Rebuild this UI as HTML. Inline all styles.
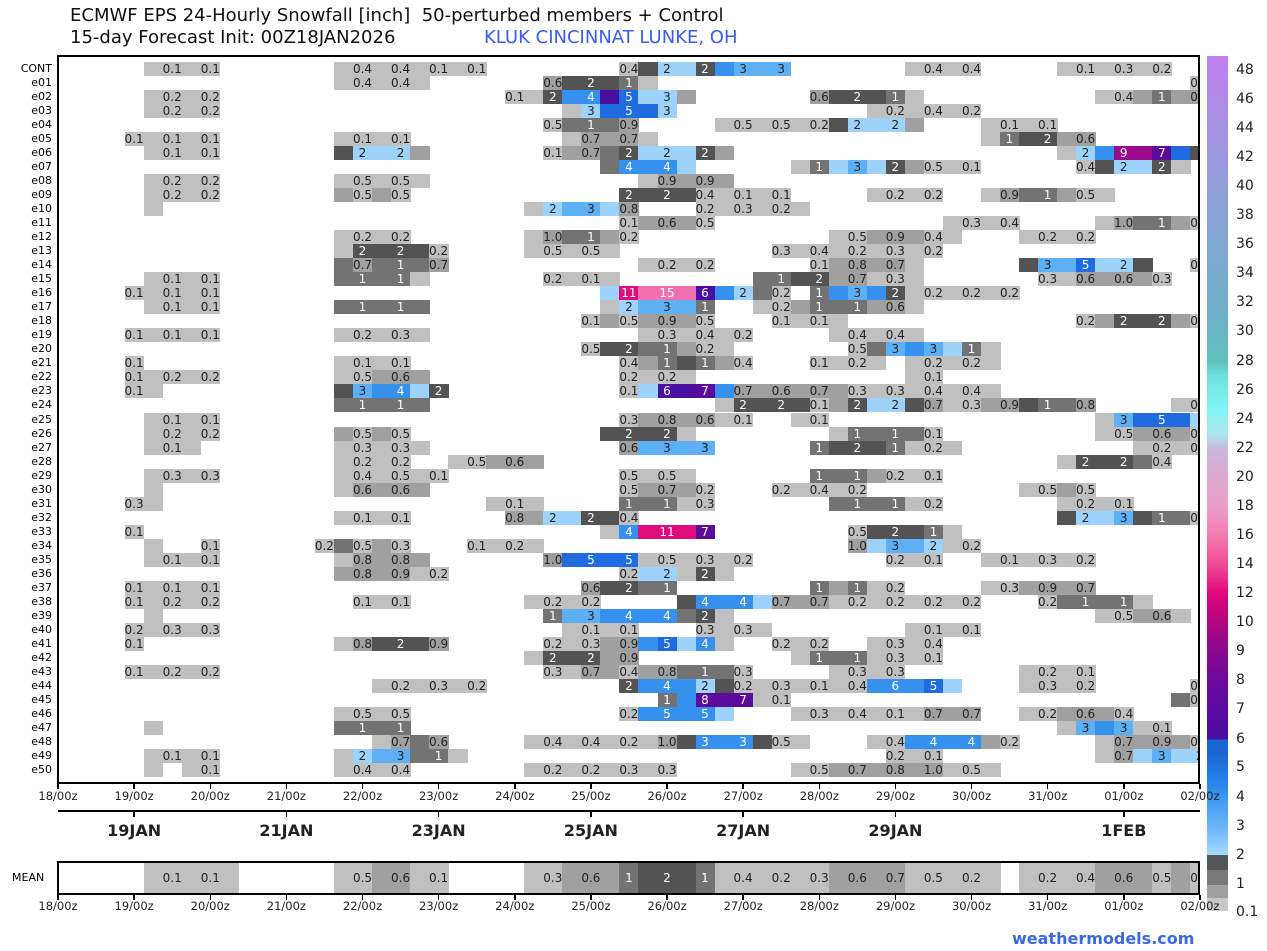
<!DOCTYPE html>
<html><head><meta charset="utf-8">
<style>
body{margin:0;background:#fff;width:1267px;height:951px;overflow:hidden;position:relative;font-family:"DejaVu Sans","Liberation Sans",sans-serif;}
.t{position:absolute;white-space:nowrap;}
.c{position:absolute;height:14px;}
.l{position:absolute;font-size:12px;line-height:14px;text-align:center;width:40px;margin-left:-20px;}
#plot{position:absolute;left:57px;top:55px;width:1143px;height:729px;border:2px solid #000;overflow:hidden;box-sizing:border-box;}
#mean{position:absolute;left:57px;top:861px;width:1143px;height:34px;border:2px solid #000;overflow:hidden;box-sizing:border-box;}
.rl{position:absolute;font-size:11px;right:1215px;line-height:14px;}
.xt{position:absolute;font-size:11.5px;width:60px;margin-left:-30px;text-align:center;color:#222;}
.tk{position:absolute;width:1.5px;background:#000;}
</style></head><body>
<div class="t" style="left:70px;top:5px;font-size:18px;color:#111;">ECMWF EPS 24-Hourly Snowfall [inch]&nbsp; 50-perturbed members + Control</div>
<div class="t" style="left:70px;top:27px;font-size:18px;color:#111;">15-day Forecast Init: 00Z18JAN2026</div>
<div class="t" style="left:484px;top:27px;font-size:18px;color:#3a5cf0;">KLUK CINCINNAT LUNKE, OH</div>
<div id="plot"></div>
<div id="mean"></div>
<div class="t" style="left:12px;top:871px;font-size:11px;">MEAN</div>
<div style="position:absolute;left:58px;top:810px;width:1142px;height:2px;background:#000"></div>
<div style="position:absolute;left:1207px;top:56px;width:21px;height:855px;background:linear-gradient(to top,#c8c8c8 0px,#c8c8c8 13px,#a0a0a0 13px,#a0a0a0 26px,#787878 26px,#787878 41px,#555 41px,#555 56px,#a5dcff 56px,#87c6ff 70px,#6ab4fa 85px,#55a6f5 99px,#3c96f0 114px,#2a84ea 128px,#1f74e0 143px,#1a66d0 157px,#1a66d0 171px,#4a10a0 172px,#5a0aa0 201px,#6a0a9a 230px,#8a0890 259px,#b0067e 288px,#e0067a 317px,#f04a98 346px,#f47ab0 375px,#eaa0c8 404px,#dca8d0 433px,#c8b8dc 462px,#a8e8f0 478px,#80f4f4 505px,#70e0e0 535px,#60c0c0 549px,#70b0c8 600px,#90a0d8 720px,#c080f0 855px);"></div>
<div class="t" style="left:1012px;top:929px;font-size:16px;font-weight:bold;color:#3a6ae0;">weathermodels.com</div>
<script>
var C={a:'#c0c0c0',b:'#a0a0a0',c:'#737373',d:'#535353',L:'#9dd3fb',M:'#5eb0f5',N:'#3590ee',O:'#1f6be0',P:'#4a0fa0',Q:'#5c0a9c',R:'#9a0a8a',S:'#e00c7c',T:'#f070b0',e:''};
var DK={c:1,d:1,N:1,O:1,P:1,Q:1,R:1,S:1,T:1};
function dc(s){if(s==='1.0')return'b';var v=parseFloat(s);if(v<=0.5)return'a';if(v<1)return'b';if(v<1.5)return'c';if(v<2.5)return'd';var m={3:'M',4:'N',5:'O',6:'P',7:'Q',8:'Q',9:'R',10:'S',11:'S',15:'T'};return m[Math.round(v)]||'S';}
var rows=[
['CONT','5:a,0.1,a,0.1 15:a,0.4,a,0.4,a,0.1,a,0.1 30:0.4,d,2L,L,2,N,3M,M,3M 45:a,0.4,a,0.4 53:a,0.1,a,0.3,a,0.2'],
['e01','15:a,0.4,a,0.4,a 26:0.6,d,2,d,1,a 60:0.3'],
['e02','5:a,0.2,a,0.2 24:0.1,a,2,N,4N,P,5O,L,3L,b 40:0.6,d,2,d,1,a 55:a,0.4,b,1,b,0.8'],
['e03','5:a,0.2,a,0.2 27:a,3L,O,5,O,3L 43:a,0.2,a,0.4,a,0.2'],
['e04','26:0.5,c,1,c,0.9 35:a,0.5,a,0.5,a,0.2,d,2L,L,2L,b 49:a,0.1,a,0.1'],
['e05','4:0.1,a,0.1,a,0.1 15:a,0.1,a,0.1 27:a,0.7,b,0.7,a 49:a,1,d,2,b,0.6'],
['e06','5:a,0.1,a,0.1 15:d,2L,L,2L,b 26:0.1,b,0.7,c,2,L,2L,L,2,b 53:a,2L,N,9,R,7,O,d'],
['e07','29:c,4N,N,4N,L 39:a,1,L,3M,L,2,b,0.5,a,0.1 54:0.4,d,2L,L,2,a'],
['e08','5:a,0.2,a,0.2 15:a,0.5,a,0.5,a 31:a,0.9,b,0.9,b'],
['e09','5:a,0.2,a,0.2 15:b,0.5,b,0.5 30:2,d,2,d,0.4,a,0.1,a,0.1 43:a,0.2,a,0.2 49:a,0.9,c,1,b,0.5,a'],
['e10','5:a 25:a,2L,M,3M,L,0.8 34:0.2,a,0.3,a,0.2,a'],
['e11','30:0.1,b,0.6,b,0.5 47:a,0.3,a,0.4 55:a,1.0,c,1,b,0.4'],
['e12','15:a,0.2,a,0.2 25:a,1.0,c,1,b,0.2 41:a,0.5,b,0.9,b,0.4,a 51:a,0.2,a,0.2'],
['e13','15:a,2,d,2,d,0.2 25:a,0.5,a,0.5,a 38:0.3,a,0.4,a,0.2,a,0.3,a,0.2'],
['e14','15:c,0.7,c,1,c,0.7 31:a,0.2,a,0.2 40:0.1,b,0.8,b,0.7,a 51:d,3M,M,5O,L,2L,d 60:0.5'],
['e15','5:a,0.1,a,0.1 15:c,1,c,1,a 26:0.2,a,0.1,a 37:c,1,d,2,b,0.7,a,0.3,a 52:0.3,a,0.6,b,0.6,b,0.3'],
['e16','4:0.1,a,0.1,a,0.1 29:L,11,T,15T,T,6,N,2L,c,0.2,e,1,N,3M,N,2,a,0.2,a,0.2,a,0.2'],
['e17','5:a,0.1,a,0.1 15:c,1,c,1,c 29:a,2L,M,3M,M,1 37:a,0.2,b,1,c,1,b,0.6,a'],
['e18','28:0.1,b,0.5,b,0.9,b,0.5 38:0.1,a,0.1,a 54:0.2,b,2,d,2,b,0.1'],
['e19','4:0.1,a,0.1,a,0.1 15:a,0.2,a,0.3,a 31:a,0.3,a,0.4,a,0.2 41:a,0.4,a,0.4,a'],
['e20','28:0.5,d,2,c,1,b,0.2,a 42:0.5,c,3M,N,3M,L,1,a'],
['e21','4:0.1 15:a,0.1,a,0.1 30:0.4,b,1,d,1,b,0.4 40:0.1,a,0.2,a 45:a,0.2,a,0.2,a'],
['e22','4:0.1,a,0.2,a,0.2 15:a,0.5,b,0.6,b 30:0.2,a,0.2,a 45:a,0.1'],
['e23','4:0.1,a 15:d,3M,N,4N,L,2 30:0.1,L,6,P,7,N,0.7,b,0.6,b,0.7,b,0.3,a,0.3,a,0.4,a,0.4,a'],
['e24','15:c,1,c,1,c 35:a,2,d,2,d,0.1,b,2,L,2L,d,0.7,a,0.3,b,0.9,d,1,c,0.8 59:a,0.5'],
['e25','5:a,0.1,a,0.1 30:0.3,b,0.8,b,0.6,a,0.1 39:a,0.1 55:a,3M,O,5,O,L,2L'],
['e26','5:a,0.2,a,0.2 15:b,0.5,b,0.5 29:d,2,d,2,a 41:a,1,c,1,c,0.1 55:a,0.5,b,0.6,b,0.3'],
['e27','5:a,0.1,a 15:a,0.3,a,0.3,a 30:0.6,M,3M,M,3M 40:1,d,2,d,1,a,0.2,a 57:a,0.2,a,0.2'],
['e28','15:a,0.2,a,0.2 21:a,0.5,b,0.6,b 53:a,2,d,2,c,0.4'],
['e29','5:a,0.3,a,0.3 15:a,0.4,a,0.5,a,0.1 30:0.5,a,0.5,a 40:1,c,1,b,0.2,a,0.1'],
['e30','5:a 15:a,0.6,b,0.6,b 30:0.5,b,0.7,b,0.2 38:0.2,a,0.4,a,0.2 51:a,0.5,b,0.5'],
['e31','4:0.3,a 23:a,0.1,a 30:1,c,1,a,0.3 41:c,1,c,1,a,0.2 53:a,0.2,a,0.1'],
['e32','15:a,0.1,a,0.1 24:0.8,b,2L,L,2,d,0.4 53:d,2L,L,3M,d,1,c,0.4'],
['e33','4:0.1 29:a,4N,S,11,S,7 42:0.5,d,2,d,1,a'],
['e34','5:a,e,e,0.1 14:0.2,c,0.5,b,0.3 22:0.1,a,0.2,a 42:1.0,L,3M,M,2L,a,0.2'],
['e35','5:a,0.1,a,0.1 15:a,0.8,b,0.8,b 26:1.0,O,5,O,5,a,0.5,a,0.3,a,0.2 44:0.2,a,0.1 49:a,0.1,a,0.3,a,0.2'],
['e36','15:b,0.8,b,0.9,a,0.2 30:0.2,L,2L,a,2,a'],
['e37','4:0.1,a,0.1,a,0.1 28:0.6,d,2,c,1 40:1,b,1,a,0.2 49:a,0.3,b,0.9,b,0.7'],
['e38','4:0.1,a,0.2,a,0.2 16:0.1,a,0.1 25:a,0.2,a,0.2 33:d,4N,N,4N,L,0.7,b,0.7,a,0.2,a,0.2,a,0.2,a,0.2 52:0.2,c,1,c,1,a'],
['e39','5:a 26:1,M,3M,N,4N,N,4N,c,2,a 55:a,0.5,b,0.6,a'],
['e40','4:0.2,a,0.3,a,0.3 27:a,0.1,a,0.1 34:0.3,a,0.3,a 45:a,0.1,a,0.1'],
['e41','4:0.1 15:a,0.8,d,2,d,0.9 26:0.2,a,0.3,b,0.9,N,5O,L,4N,a 38:0.2,a,0.2 43:a,0.3,a,0.4'],
['e42','25:a,2,d,2,b,0.9 39:a,1,c,1,a 44:0.3,a,0.1'],
['e43','4:0.1,a,0.2,a,0.2 26:0.3,a,0.7,b,0.4,b,0.8,c,1,c,0.3 41:a,0.3,a,0.3 51:a,0.2,a,0.1'],
['e44','17:a,0.2,a,0.3,a,0.2 30:2,N,4N,N,2L,d,0.2,a,0.3,a,0.1,a,0.4,N,6N,N,5O,L 51:a,0.3,a,0.2 60:0.1'],
['e45','32:1,N,8,Q,7,a,0.1 59:c,0.5'],
['e46','15:a,0.5,a,0.5 30:0.2,N,5N,N,5N,L 39:a,0.3,a,0.4,a,0.1,a,0.7,b,0.7 51:a,0.2,b,0.6,b,0.4'],
['e47','5:a 15:c,1,c,1 53:a,3M,N,3M,a,0.1'],
['e48','17:a,0.7,c,0.6 25:a,0.4,a,0.4,a,0.2,a,1.0,d,3N,N,3N,d,0.5,a 43:a,0.4,N,4N,N,4N,b,0.2 55:a,0.7,b,0.9,b,0.3'],
['e49','5:a,0.1,a,0.1 15:a,2L,M,3M,c,1,a 44:0.2,a,0.1 55:a,0.7,L,3M,L,2L'],
['e50','5:a,e,a,0.1 15:a,0.4,a,0.4 25:a,0.2,a,0.2,a,0.3,a,0.3 39:a,0.5,b,0.7,b,0.8,b,1.0,a,0.5,a']
];
var DX=19.03;
function draw(par,top,h,spec){
 spec.split(' ').forEach(function(seg){
  var p=seg.split(':'),j=parseInt(p[0]);
  p[1].split(',').forEach(function(tok,k){
   var jj=j+k,x=(jj*DX-9.5)+1,col,lab=null;
   if(/^[a-zA-Z]$/.test(tok)){col=tok;}else{var m=tok.match(/^([\d.]+)([A-Za-z]?)$/);lab=m[1];col=m[2]||dc(m[1]);}
   if(C[col]){var d=document.createElement('div');d.className='c';d.style.cssText='left:'+(x-2).toFixed(1)+'px;top:'+top+'px;width:'+(DX+0.6).toFixed(1)+'px;height:'+h+'px;background:'+C[col];par.appendChild(d);}
   if(lab){var t=document.createElement('div');t.className='l';t.textContent=lab;t.style.cssText='left:'+(x-2+DX/2).toFixed(1)+'px;top:'+(top+(h-14)/2)+'px;color:'+(DK[col]?'#fff':'#222');par.appendChild(t);}
  });
 });
}
var plot=document.getElementById('plot');
rows.forEach(function(r,i){
 var yc=69+i*14.02;
 draw(plot,Math.round(yc-7-57),14,r[1]);
 var l=document.createElement('div');l.className='rl t';l.textContent=r[0];l.style.top=(yc-7)+'px';document.body.appendChild(l);
});
draw(document.getElementById('mean'),0,30,'5:a,0.1,a,0.1,a 15:a,0.5,b,0.6,a,0.1 25:a,0.3,b,0.6,b,1,d,2,d,1,a,0.4,a,0.2,a,0.3,b,0.6,b,0.7,a,0.5,a,0.2,a 51:a,0.2,a,0.4,b,0.6,b,0.5,b,0.2');
var days=['18','19','20','21','22','23','24','25','26','27','28','29','30','31','01','02'];
var b=document.body;
days.forEach(function(d,i){
 var x=58+i*76.13;
 var t=document.createElement('div');t.className='xt t';t.textContent=d+'/00z';t.style.left=x+'px';t.style.top='789px';b.appendChild(t);
 var t2=document.createElement('div');t2.className='xt t';t2.textContent=d+'/00z';t2.style.left=x+'px';t2.style.top='899px';b.appendChild(t2);
 var k=document.createElement('div');k.className='tk';k.style.cssText='left:'+(x-0.7)+'px;top:784px;height:5px';b.appendChild(k);
 var k2=document.createElement('div');k2.className='tk';k2.style.cssText='left:'+(x-0.7)+'px;top:895px;height:5px';b.appendChild(k2);
});
[['19JAN',1],['21JAN',3],['23JAN',5],['25JAN',7],['27JAN',9],['29JAN',11],['1FEB',14]].forEach(function(a){
 var x=58+a[1]*76.13;
 var t=document.createElement('div');t.className='t';t.textContent=a[0];t.style.cssText='left:'+(x-40)+'px;width:80px;text-align:center;top:821px;font-size:16px;font-weight:bold;color:#222';b.appendChild(t);
 var k=document.createElement('div');k.className='tk';k.style.cssText='left:'+(x-0.7)+'px;top:811px;height:6px';b.appendChild(k);
});
var cb=[['48',71],['46',100],['44',129],['42',158],['40',187],['38',216],['36',245],['34',274],['32',303],['30',332],['28',362],['26',391],['24',420],['22',449],['20',478],['18',507],['16',536],['14',565],['12',594],['10',623],['9',652],['8',681],['7',710],['6',740],['5',768],['4',798],['3',827],['2',856],['1',885],['0.1',913]];
cb.forEach(function(c){var t=document.createElement('div');t.className='t';t.textContent=c[0];t.style.cssText='left:1236px;top:'+(c[1]-9)+'px;font-size:14px;color:#222';b.appendChild(t);});
</script>
</body></html>
